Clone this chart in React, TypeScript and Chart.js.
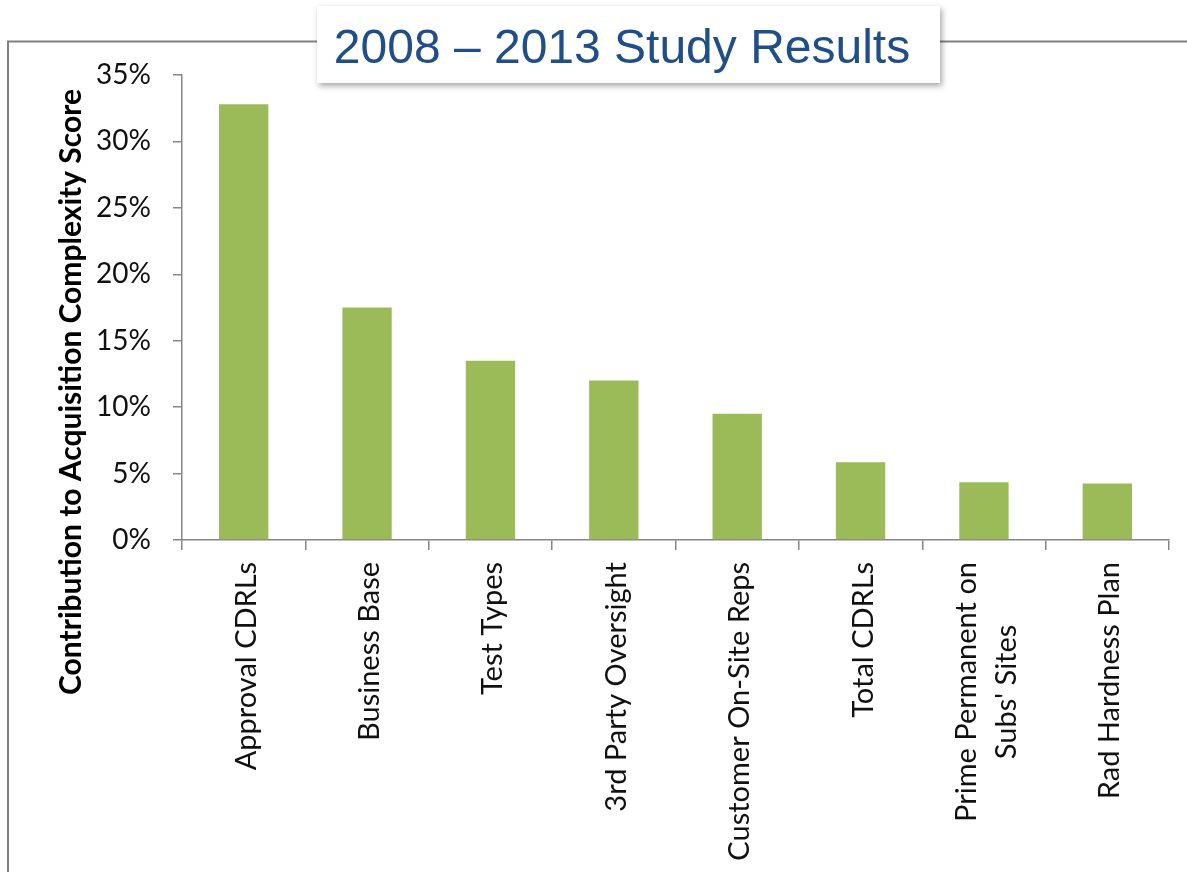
import React, { useEffect, useRef } from "react";
import { Chart, registerables } from "chart.js";

Chart.register(...registerables);

const categories: (string | string[])[] = [
  "Approval CDRLs",
  "Business Base",
  "Test Types",
  "3rd Party Oversight",
  "Customer On-Site Reps",
  "Total CDRLs",
  ["Prime Permanent on", "Subs' Sites"],
  "Rad Hardness Plan",
];
const contribution = [0.328, 0.175, 0.135, 0.12, 0.095, 0.0585, 0.0435, 0.0425];
const yMin = 0;
const yMax = 0.35;
const yStep = 0.05;
const titleText = "2008 \u2013 2013 Study Results";
const yTitleText = "Contribution to Acquisition Complexity Score";

const W = 1187;
const H = 872;
const AXIS_GRAY = "#868686";
const LABEL_FONT = "Lato";

const decorPlugin = {
  id: "decor",
  afterDraw(chart: any) {
    const ctx = chart.ctx as CanvasRenderingContext2D;
    const x = chart.scales.x;
    // frame
    ctx.save();
    ctx.strokeStyle = "#808080";
    ctx.lineWidth = 2;
    ctx.beginPath();
    ctx.moveTo(8, H + 5);
    ctx.lineTo(8, 41.5);
    ctx.lineTo(W + 5, 41.5);
    ctx.stroke();
    ctx.restore();

    // title box
    ctx.save();
    ctx.shadowColor = "rgba(0,0,0,0.35)";
    ctx.shadowBlur = 6;
    ctx.shadowOffsetX = 2;
    ctx.shadowOffsetY = 3;
    ctx.fillStyle = "#ffffff";
    ctx.fillRect(317, 6, 623, 77);
    ctx.restore();
    ctx.save();
    ctx.fillStyle = "#1f4e8a";
    ctx.font = "48px 'Liberation Sans', Arial, sans-serif";
    ctx.textAlign = "center";
    ctx.textBaseline = "alphabetic";
    ctx.fillText(titleText, 622, 63);
    ctx.restore();

    // y axis title
    ctx.save();
    ctx.translate(81, 392);
    ctx.rotate(-Math.PI / 2);
    ctx.fillStyle = "#000000";
    ctx.font = `bold 30px ${LABEL_FONT}`;
    ctx.textAlign = "center";
    ctx.textBaseline = "alphabetic";
    ctx.fillText(yTitleText, 0, 0);
    ctx.restore();

    // x category labels, rotated
    ctx.save();
    ctx.fillStyle = "#111111";
    ctx.font = `29px ${LABEL_FONT}`;
    const top = chart.chartArea.bottom + 22;
    categories.forEach((lab, i) => {
      const lines = Array.isArray(lab) ? lab : [lab];
      const xc = x.getPixelForValue(i);
      const maxW = Math.max(...lines.map((l) => ctx.measureText(l).width));
      const n = lines.length;
      lines.forEach((line, j) => {
        ctx.save();
        ctx.translate(xc + 12 + (j - (n - 1) / 2) * 40, top);
        ctx.rotate(-Math.PI / 2);
        ctx.textBaseline = "alphabetic";
        if (n === 1) {
          ctx.textAlign = "right";
          ctx.fillText(line, 0, 0);
        } else {
          ctx.textAlign = "center";
          ctx.fillText(line, -maxW / 2, 0);
        }
        ctx.restore();
      });
    });
    ctx.restore();
  },
};

export default function App() {
  const ref = useRef<HTMLCanvasElement | null>(null);
  useEffect(() => {
    if (!ref.current) return;
    const chart = new Chart(ref.current, {
      type: "bar",
      data: {
        labels: categories.map((c) => (Array.isArray(c) ? c.join(" ") : c)),
        datasets: [
          {
            data: contribution,
            backgroundColor: "#9bbb59",
            borderWidth: 0,
            barPercentage: 0.4,
            categoryPercentage: 1,
          },
        ],
      },
      options: {
        responsive: false,
        animation: false,
        devicePixelRatio: 1,
        layout: { padding: { top: 75, right: 18, left: 0, bottom: 0 } },
        plugins: {
          legend: { display: false },
          title: { display: false },
          tooltip: { enabled: false },
        },
        scales: {
          x: {
            type: "category",
            offset: true,
            grid: {
              offset: true,
              drawOnChartArea: false,
              drawTicks: true,
              tickLength: 10,
              color: AXIS_GRAY,
              lineWidth: 1.5,
            },
            border: { display: true, color: AXIS_GRAY, width: 1.5 },
            ticks: { display: false },
            afterFit: (scale: any) => {
              scale.height = H - 540;
            },
          },
          y: {
            min: yMin,
            max: yMax,
            grid: {
              drawOnChartArea: false,
              drawTicks: true,
              tickLength: 9,
              color: AXIS_GRAY,
              lineWidth: 1.5,
            },
            border: { display: true, color: AXIS_GRAY, width: 1.5 },
            ticks: {
              stepSize: yStep,
              padding: 22,
              color: "#111111",
              font: { family: LABEL_FONT, size: 28 },
              callback: (v: any) => Math.round(Number(v) * 100) + "%",
            },
            afterFit: (scale: any) => {
              scale.width = 182;
            },
          },
        },
      },
      plugins: [decorPlugin],
    });
    return () => chart.destroy();
  }, []);
  return (
    <div style={{ position: "absolute", left: 0, top: 0, width: W, height: H, background: "#fff" }}>
      <canvas ref={ref} width={W} height={H} style={{ display: "block", width: W, height: H }} />
    </div>
  );
}
